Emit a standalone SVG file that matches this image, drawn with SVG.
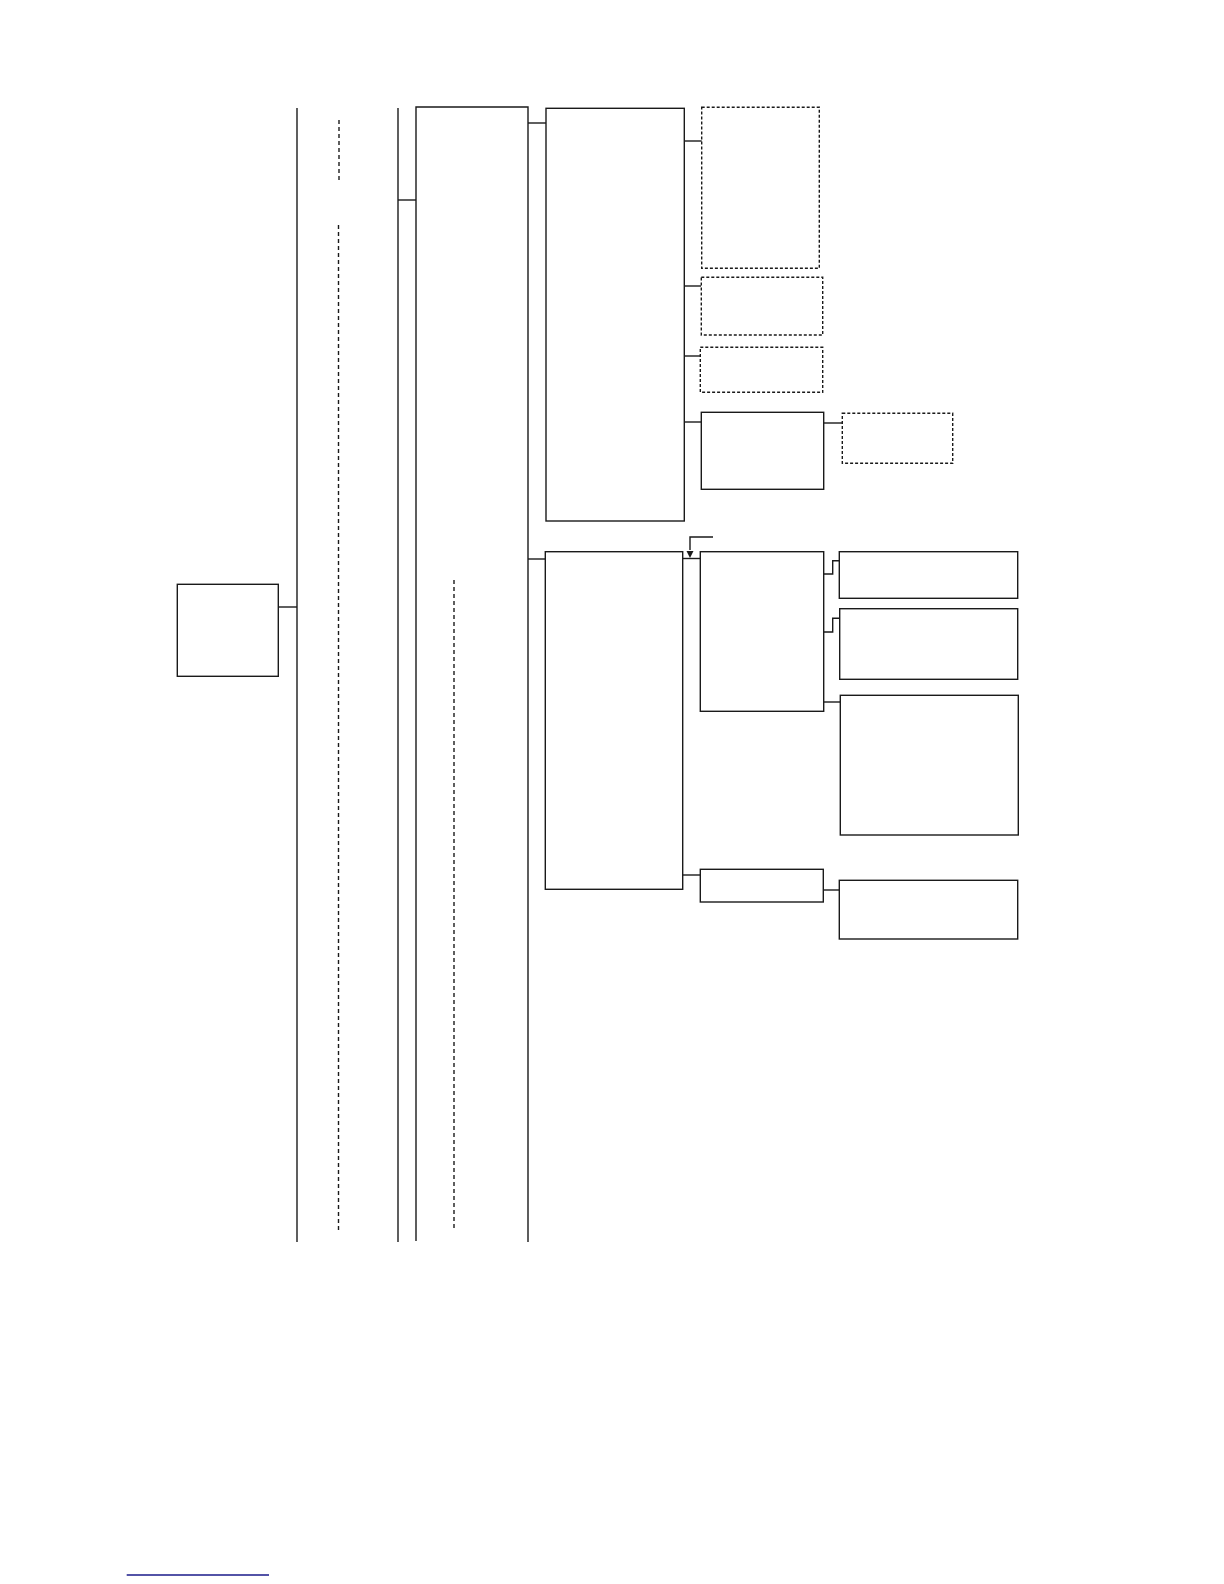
<svg xmlns="http://www.w3.org/2000/svg" width="1224" height="1584" viewBox="0 0 1224 1584">
<defs>
<style>
.n{fill:#fff;stroke:#1a1a1a;stroke-width:1.4}
.d{fill:#fff;stroke:#1a1a1a;stroke-width:1.4;stroke-dasharray:3,2}
.c{fill:none;stroke:#1a1a1a;stroke-width:1.4}
.dl{fill:none;stroke:#1a1a1a;stroke-width:1.4;stroke-dasharray:4,3}
</style>
<marker id="ah" viewBox="0 0 7 7" refX="3.5" refY="7" markerWidth="7" markerHeight="7" orient="auto-start-reverse" markerUnits="userSpaceOnUse">
<path d="M0,0 L7,3.5 L0,7 Z" fill="#1a1a1a"/>
</marker>
</defs>
<rect width="1224" height="1584" fill="#fff"/>
<g id="connectors">
<path class="c" d="M297,108 V1242"/>
<path class="c" d="M278,607 H297"/>
<path class="dl" d="M339,120 V182"/>
<path class="dl" d="M338.5,225 V1230"/>
<path class="c" d="M398,108 V1242"/>
<path class="c" d="M398,200 H416"/>
<path class="c" d="M416,1241 V107 H528 V1242"/>
<path class="dl" d="M454,580 V1230"/>
<path class="c" d="M528,123 H546"/>
<path class="c" d="M528,559 H545"/>
<path class="c" d="M684,141 H702"/>
<path class="c" d="M684,286 H701"/>
<path class="c" d="M684,356 H700"/>
<path class="c" d="M684,422 H701"/>
<path class="c" d="M824,423 H842"/>
<path class="c" d="M683,558.5 H700"/>
<path class="c" d="M713,537 H690 V550"/>
<path d="M686.5,551 L693.5,551 L690,558 Z" fill="#1a1a1a"/>
<path class="c" d="M824,574 H832.7 V560.7 H839"/>
<path class="c" d="M824,632 H832.7 V618.3 H839.5"/>
<path class="c" d="M824,702 H840"/>
<path class="c" d="M683,875 H700"/>
<path class="c" d="M823,890 H839"/>
</g>
<g id="root"><rect class="n" x="177.3" y="584.3" width="101" height="92"/></g>
<g id="b1"><rect class="n" x="546" y="108.3" width="138.3" height="412.7"/></g>
<g id="b2"><rect class="n" x="545.3" y="551.7" width="137.4" height="337.6"/></g>
<g id="d1"><rect class="d" x="701.7" y="107.3" width="117.6" height="161"/></g>
<g id="d2"><rect class="d" x="701.3" y="277.3" width="121.4" height="57.7"/></g>
<g id="d3"><rect class="d" x="700.3" y="347.3" width="122.4" height="45"/></g>
<g id="s4"><rect class="n" x="701.3" y="412.3" width="122.4" height="77"/></g>
<g id="d5"><rect class="d" x="842.3" y="413.3" width="110.4" height="50"/></g>
<g id="m1"><rect class="n" x="700.3" y="551.7" width="123.4" height="159.6"/></g>
<g id="r1"><rect class="n" x="839.3" y="551.7" width="178.4" height="46.6"/></g>
<g id="r2"><rect class="n" x="839.7" y="608.7" width="178" height="70.6"/></g>
<g id="r3"><rect class="n" x="840.3" y="695.3" width="178" height="139.7"/></g>
<g id="m2"><rect class="n" x="700.3" y="869.3" width="123" height="32.7"/></g>
<g id="r4"><rect class="n" x="839.3" y="880.3" width="178.4" height="58.7"/></g>
<line x1="126.7" y1="1575" x2="269" y2="1575" stroke="#1a1a8a" stroke-width="1.4"/>
</svg>
